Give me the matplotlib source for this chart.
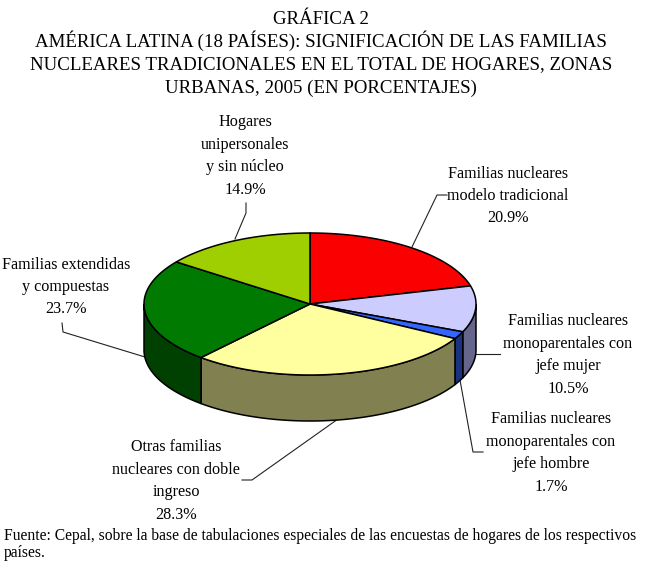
import matplotlib
matplotlib.use("Agg")
import matplotlib.pyplot as plt
import numpy as np

plt.rcParams['font.family'] = ['Liberation Serif', 'DejaVu Serif']

# Slices, clockwise from 12 o'clock
names = [
    "Familias nucleares\nmodelo tradicional",
    "Familias nucleares\nmonoparentales con\njefe mujer",
    "Familias nucleares\nmonoparentales con\njefe hombre",
    "Otras familias\nnucleares con doble\ningreso",
    "Familias extendidas\ny compuestas",
    "Hogares\nunipersonales\ny sin núcleo",
]
values = [20.9, 10.5, 1.7, 28.3, 23.7, 14.9]
top_colors = ['#fb0000', '#ccccff', '#3366ff', '#ffffa0', '#007a00', '#9fcf00']
side_colors = ['#800000', '#66668c', '#1a3380', '#808050', '#004000', '#506800']

title_lines = [
    "GRÁFICA 2",
    "AMÉRICA LATINA (18 PAÍSES): SIGNIFICACIÓN DE LAS FAMILIAS",
    "NUCLEARES TRADICIONALES EN EL TOTAL DE HOGARES, ZONAS",
    "URBANAS, 2005 (EN PORCENTAJES)",
]
title_y = [24, 47, 69, 93]
source = ("Fuente: Cepal, sobre la base de tabulaciones especiales de las encuestas de hogares de los respectivos\n"
          "países.")

# label centre for each slice (pixels)
label_pos = [(508, 196), (568, 355), (551, 453), (176, 481), (66, 287), (245, 156)]
# leader line for each slice
leaders = [
    ([412, 437, 447], [247, 195, 195]),
    ([476, 500], [354, 354]),
    ([460, 473, 483], [380, 452, 452]),
    ([338, 252, 242], [419, 480, 480]),
    ([145, 63, 62], [357, 332, 323]),
    ([235, 246, 246], [239, 213, 203]),
]

cx, cy = 310, 304
rx, ry = 166, 71
depth = 46


def rim(a0, a1):
    # points on the top ellipse, angle clockwise from the top
    t = np.radians(np.linspace(a0, a1, max(int(abs(a1 - a0)) * 2, 2)))
    return cx + rx * np.sin(t), cy - ry * np.cos(t)


fig = plt.figure(figsize=(6.52, 5.68), dpi=100, facecolor='white')
ax = fig.add_axes([0, 0, 1, 1])
ax.set_xlim(0, 652)
ax.set_ylim(568, 0)
ax.axis('off')

edges = np.concatenate([[0], np.cumsum(values)]) / sum(values) * 360

# sides: only the front half of the rim can be seen
for i in range(len(values)):
    a0 = max(edges[i], 90)
    a1 = min(edges[i + 1], 270)
    if a1 <= a0:
        continue
    x, y = rim(a0, a1)
    ax.fill(np.r_[x, x[::-1]], np.r_[y, y[::-1] + depth], facecolor=side_colors[i],
            edgecolor='black', linewidth=1.1, zorder=2)

# tops
for i in range(len(values)):
    x, y = rim(edges[i], edges[i + 1])
    ax.fill(np.r_[cx, x], np.r_[cy, y], facecolor=top_colors[i],
            edgecolor='black', linewidth=1.1, zorder=3)

for (lx, ly) in leaders:
    ax.plot(lx, ly, color='#222222', linewidth=0.8, zorder=1)

for name, val, (px, py) in zip(names, values, label_pos):
    ax.text(px, py, f"{name}\n{val}%", ha='center', va='center', fontsize=11.6,
            linespacing=1.53, color='black')

for line, y in zip(title_lines, title_y):
    ax.text(321, y, line, ha='center', va='baseline', fontsize=13.6, color='black')

ax.text(4, 528, source, ha='left', va='top', fontsize=11.25, linespacing=1.09, color='black')

fig.savefig('out.png', dpi=100)
